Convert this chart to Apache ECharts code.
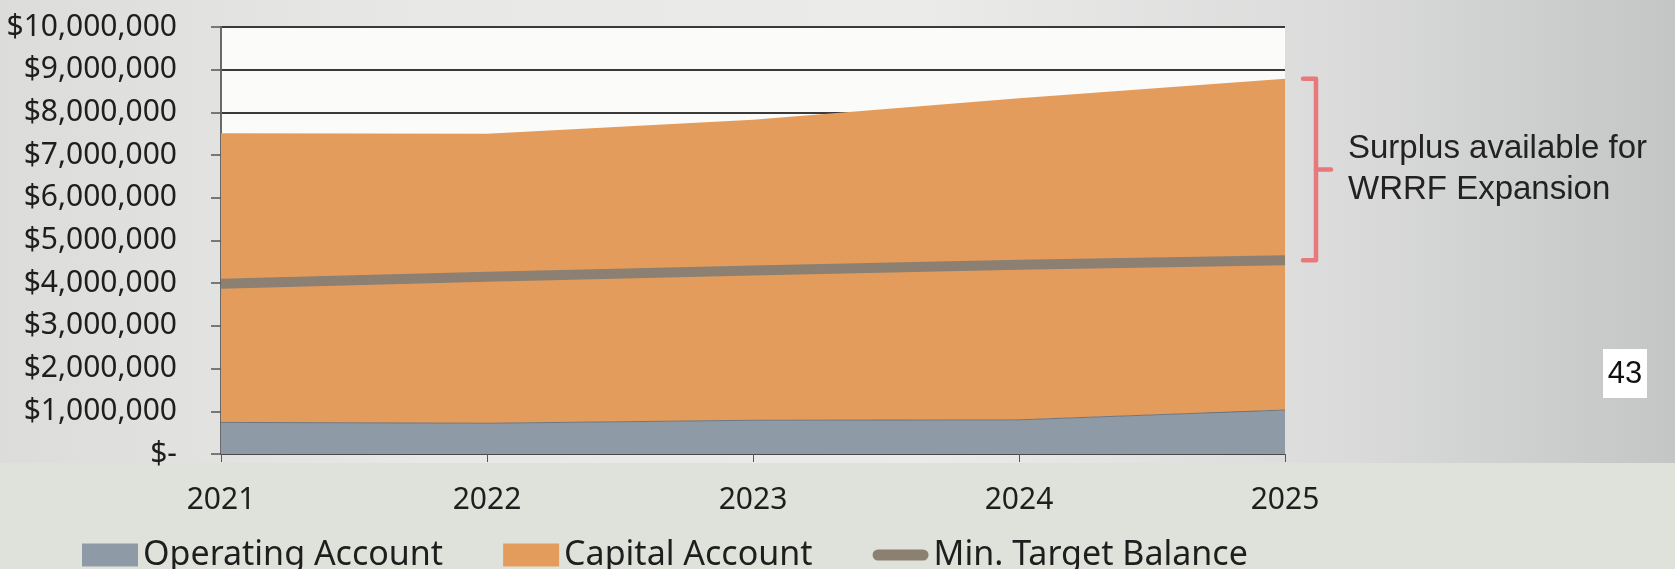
<!DOCTYPE html>
<html>
<head>
<meta charset="utf-8">
<script src="https://cdn.jsdelivr.net/npm/echarts@6/dist/echarts.min.js"></script>
<style>
html, body { margin: 0; padding: 0; }
body {
  width: 1675px;
  height: 569px;
  overflow: hidden;
  background:
    linear-gradient(to bottom, rgba(0,0,0,0) 463px, #dfe2da 463px),
    linear-gradient(to right, #dcdcdb 0%, #e8e8e7 25%, #ebebea 55%, #dadbda 80%, #c4c6c6 100%);
}
#chart { width: 1675px; height: 569px; }
</style>
</head>
<body>
<div id="chart"></div>
<script>
const years = ['2021', '2022', '2023', '2024', '2025']
const operating = [740000, 720000, 790000, 800000, 1030000]
const capital = [6770000, 6780000, 7040000, 7530000, 7760000]
const minTarget = [3990000, 4150000, 4300000, 4430000, 4540000]
const noteLines = ['Surplus available for', 'WRRF Expansion']
const pageNo = '43'

const labelFont = 'Noto Sans'
const chart = echarts.init(document.getElementById('chart'))

const formatMoney = (v) => v === 0 ? '$-' : '$' + v.toLocaleString('en-US')

// thick rounded bar for the target-balance legend swatch
const barIcon = 'path://M5.5,0 L50.5,0 A5.5,5.5 0 0 1 50.5,11 L5.5,11 A5.5,5.5 0 0 1 5.5,0 Z'

chart.setOption({
  animation: false,
  backgroundColor: 'transparent',
  grid: {
    left: 221,
    right: 390,
    top: 27,
    bottom: 115,
    show: true,
    backgroundColor: '#fbfbfa',
    borderWidth: 0
  },
  legend: {
    left: 77,
    top: 533,
    itemWidth: 56,
    itemHeight: 23,
    itemGap: 60,
    textStyle: { fontFamily: labelFont, fontSize: 34, color: '#1e1e1e' },
    data: [
      { name: 'Operating Account', icon: 'rect' },
      { name: 'Capital Account', icon: 'rect' },
      { name: 'Min. Target Balance', icon: barIcon }
    ]
  },
  xAxis: {
    type: 'category',
    boundaryGap: false,
    data: years,
    axisLine: { lineStyle: { color: '#4a4a4a', width: 1 } },
    axisTick: { show: true, length: 8, lineStyle: { color: '#555' } },
    axisLabel: { fontFamily: labelFont, fontSize: 30, color: '#1e1e1e', margin: 31 }
  },
  yAxis: {
    type: 'value',
    min: 0,
    max: 10000000,
    interval: 1000000,
    axisLine: { show: true, lineStyle: { color: '#6a6a6a', width: 2 } },
    axisTick: { show: true, length: 10, lineStyle: { color: '#555', width: 1.5 } },
    splitLine: { lineStyle: { color: '#3a3a3a', width: 2 } },
    axisLabel: {
      fontFamily: labelFont,
      fontSize: 30,
      color: '#1e1e1e',
      margin: 44,
      formatter: formatMoney
    }
  },
  series: [
    {
      name: 'Operating Account',
      type: 'line',
      stack: 'total',
      data: operating,
      symbol: 'none',
      lineStyle: { width: 1, color: '#6d7680' },
      itemStyle: { color: '#8e9ba7' },
      areaStyle: { color: '#8e9ba7', opacity: 1 },
      emphasis: { disabled: true },
      z: 2
    },
    {
      name: 'Capital Account',
      type: 'line',
      stack: 'total',
      data: capital,
      symbol: 'none',
      lineStyle: { width: 0 },
      itemStyle: { color: '#e49c5c' },
      areaStyle: { color: '#e49c5c', opacity: 1 },
      emphasis: { disabled: true },
      z: 2
    },
    {
      name: 'Min. Target Balance',
      type: 'line',
      data: minTarget,
      symbol: 'none',
      lineStyle: { width: 10, color: '#8b8071' },
      itemStyle: { color: '#8b8071' },
      emphasis: { disabled: true },
      z: 3
    }
  ]
})

// bracket spans the gap between the target line and the top of the stack in the last year
const last = years.length - 1
const [bx, yTop] = chart.convertToPixel({ gridIndex: 0 }, [years[last], operating[last] + capital[last]])
const yBot = chart.convertToPixel({ gridIndex: 0 }, [years[last], minTarget[last]])[1]
const yMid = (yTop + yBot) / 2

chart.setOption({
  graphic: [
    {
      type: 'polyline',
      shape: { points: [[bx + 18, yTop], [bx + 31, yTop], [bx + 31, yBot], [bx + 18, yBot]] },
      style: { stroke: '#e8787b', lineWidth: 4.5, fill: null, lineJoin: 'round', lineCap: 'round' }
    },
    {
      type: 'line',
      shape: { x1: bx + 31, y1: yMid, x2: bx + 46, y2: yMid },
      style: { stroke: '#e8787b', lineWidth: 4.5, lineCap: 'round' }
    },
    {
      type: 'text',
      x: bx + 63,
      y: yMid,
      style: {
        text: noteLines.join('\n'),
        fontFamily: 'Liberation Sans',
        fontSize: 33,
        lineHeight: 41,
        fill: '#222',
        verticalAlign: 'middle'
      }
    },
    {
      type: 'rect',
      shape: { x: 1603, y: 349, width: 44, height: 49 },
      style: { fill: '#ffffff' }
    },
    {
      type: 'text',
      x: 1625,
      y: 374,
      style: {
        text: pageNo,
        fontFamily: 'Liberation Sans',
        fontSize: 31,
        fill: '#111',
        align: 'center',
        verticalAlign: 'middle'
      }
    }
  ]
})
</script>
</body>
</html>
